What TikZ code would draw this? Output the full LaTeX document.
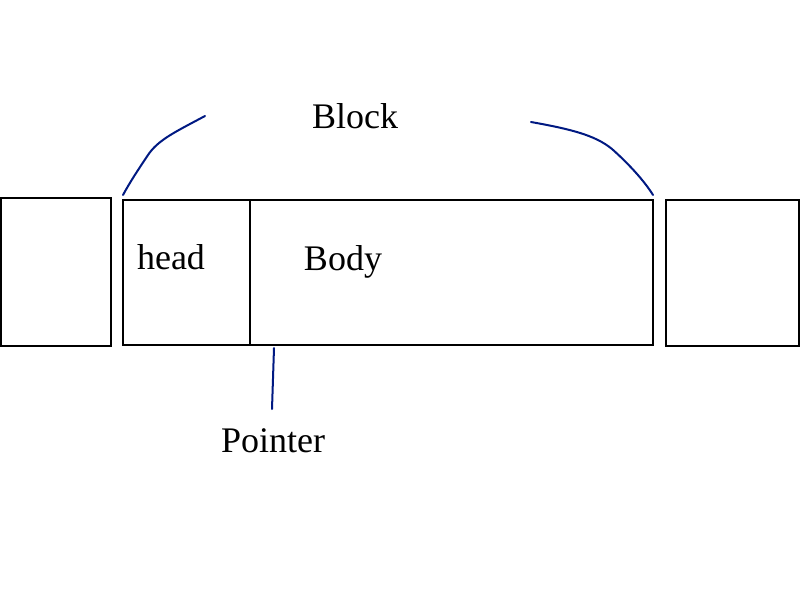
\documentclass[tikz,border=0pt]{standalone}
\usepackage{fontspec}
\setmainfont{Liberation Serif}
\begin{document}
\begin{tikzpicture}[x=1pt,y=-1pt,
  box/.style={draw=black,line width=2pt,minimum width=#1,inner sep=0pt,outer sep=0pt},
  lbl/.style={font=\fontsize{36}{42}\selectfont,inner sep=0pt},
  link/.style={draw={rgb,255:red,0;green,25;blue,130},line width=2pt,line cap=round}]
\useasboundingbox (0,0) rectangle (800,600);
\node[box=110pt,minimum height=148pt] (lbox) at (56,272) {};
\node[box=127pt,minimum height=145pt] (head) at (186.5,272.5) {};
\node[box=403pt,minimum height=145pt] (body) at (451.5,272.5) {};
\node[box=133pt,minimum height=146pt] (rbox) at (732.5,273) {};
\node[lbl] (headt) at (171,257) {head};
\node[lbl] (bodyt) at (343,262) {Body};
\node[lbl] (block) at (355,116) {Block};
\node[lbl] (ptr) at (273,441) {Pointer};
\coordinate (l1) at (205,116);
\coordinate (r1) at (531,122);
\coordinate (p1) at (272,409);
\draw[link] (l1) .. controls (175,132) and (158,140) .. (148,155) .. controls (138,170) and (130,182) .. ([yshift=5pt]head.north west);
\draw[link] (r1) .. controls (570,129) and (595,135) .. (612,149) .. controls (630,165) and (645,182) .. ([yshift=5pt]body.north east);
\draw[link] ([xshift=24pt,yshift=-3pt]head.south east) -- (p1);
\end{tikzpicture}
\end{document}
